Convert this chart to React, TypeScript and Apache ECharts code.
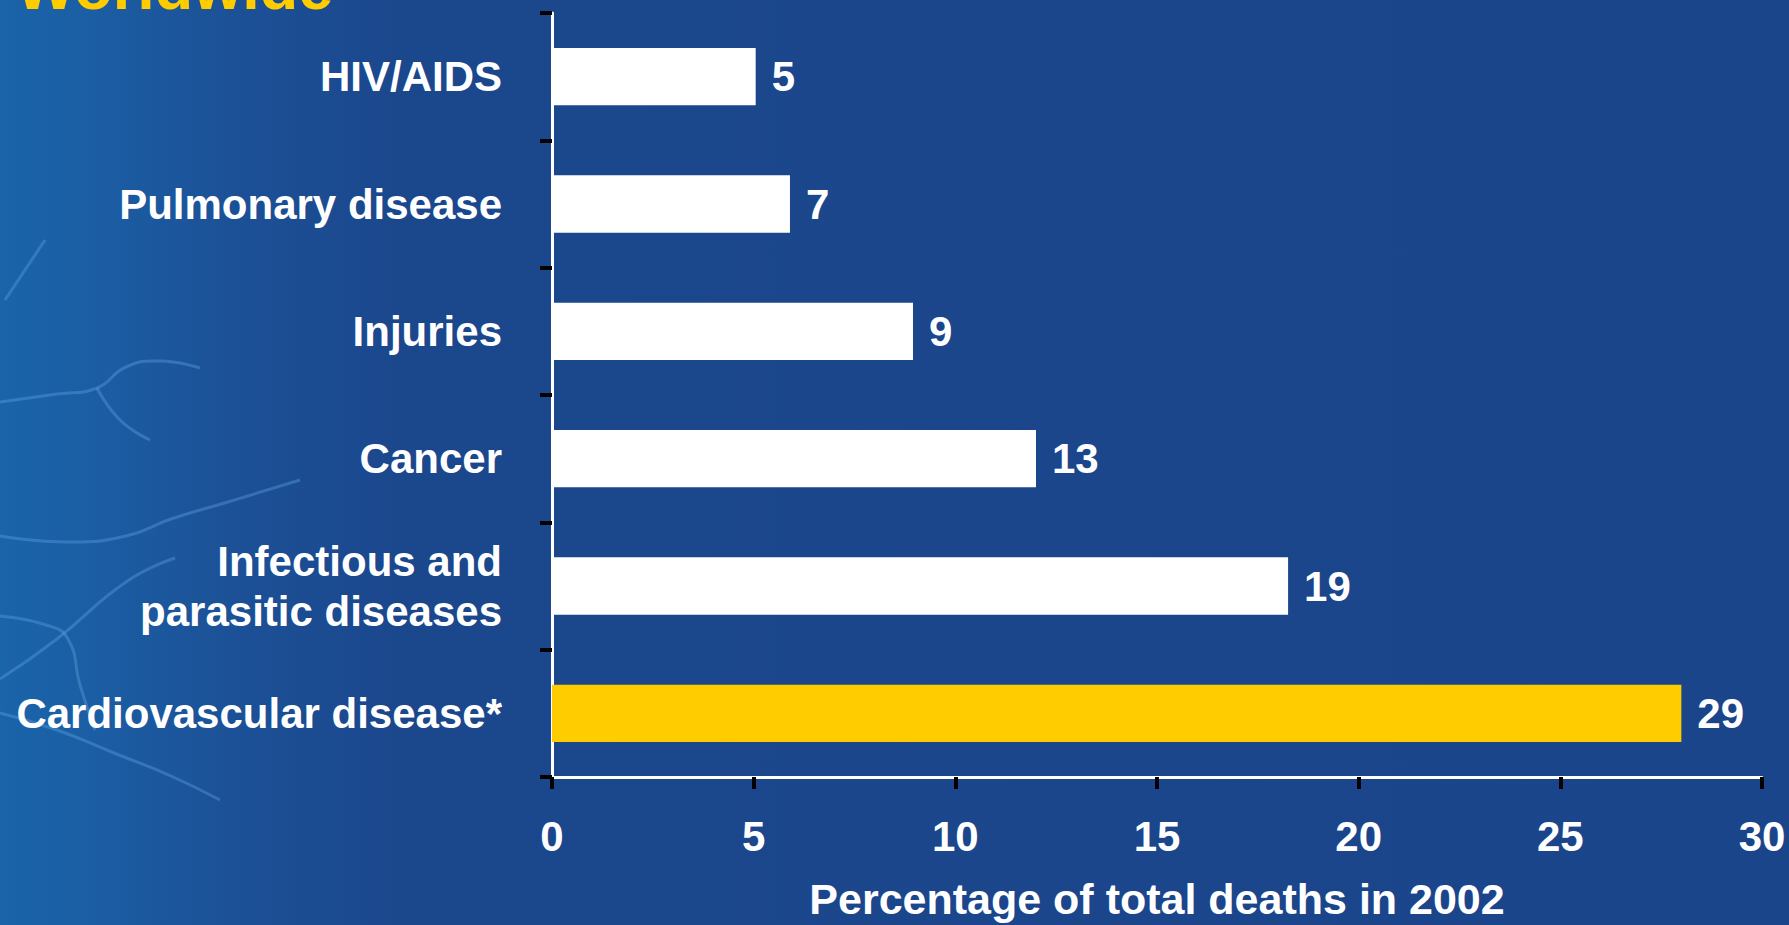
import React, { useEffect, useRef } from "react";
import * as echarts from "echarts";

const categories = [
  "HIV/AIDS",
  "Pulmonary disease",
  "Injuries",
  "Cancer",
  "Infectious and\nparasitic diseases",
  "Cardiovascular disease*",
];
// bar lengths as drawn in the reference
const barValues = [5.05, 5.9, 8.95, 12, 18.25, 28];
// numbers printed next to the bars
const labelTexts = ["5", "7", "9", "13", "19", "29"];
const barColors = ["#ffffff", "#ffffff", "#ffffff", "#ffffff", "#ffffff", "#ffcc00"];
const xTicks = { min: 0, max: 30, interval: 5 };
const titleText = "Worldwide";
const axisName = "Percentage of total deaths in 2002";

const FONT = "'Liberation Sans', Arial, Helvetica, sans-serif";

const veins: number[][][] = [
  [[0, 402], [57, 394], [97, 388], [126, 367], [160, 361], [200, 368]],
  [[97, 388], [120, 420], [150, 440]],
  [[0, 536], [68, 542], [126, 536], [171, 519], [228, 502], [300, 480]],
  [[0, 679], [57, 639], [126, 582], [175, 558]],
  [[0, 616], [46, 625], [68, 639], [80, 685], [95, 730]],
  [[0, 713], [57, 730], [114, 753], [171, 776], [220, 800]],
  [[5, 300], [25, 270], [45, 240]],
];

export default function App() {
  const ref = useRef<HTMLDivElement>(null);
  useEffect(() => {
    document.body.style.margin = "0";
    const chart = echarts.init(ref.current!, undefined, { renderer: "svg" });
    const veinGraphics = veins.map((pts) => ({
      type: "polyline",
      z: -9,
      shape: { points: pts, smooth: 0.5 },
      style: { stroke: "rgba(95,160,225,0.4)", lineWidth: 3, fill: "none" },
      silent: true,
    }));
    chart.setOption({
      animation: false,
      backgroundColor: "#1b458b",
      graphic: [
        {
          type: "rect",
          z: -10,
          shape: { x: 0, y: 0, width: 1789, height: 925 },
          style: {
            fill: new echarts.graphic.LinearGradient(0, 0, 1, 0, [
              { offset: 0, color: "#1a64aa" },
              { offset: 0.05, color: "#1b5ea4" },
              { offset: 0.12, color: "#1c5298" },
              { offset: 0.22, color: "#1b478d" },
              { offset: 1, color: "#1b458b" },
            ]),
          },
          silent: true,
        },
        ...veinGraphics,
        {
          type: "text",
          left: 16,
          top: -45,
          style: {
            text: titleText,
            fill: "#ffcc00",
            font: `bold 63px ${FONT}`,
          },
        },
      ],
      grid: { left: 552, right: 27, top: 13, bottom: 141, containLabel: false },
      xAxis: {
        type: "value",
        min: xTicks.min,
        max: xTicks.max,
        interval: xTicks.interval,
        axisLine: { show: true, lineStyle: { color: "#ffffff", width: 3 } },
        axisTick: { show: true, length: 12, lineStyle: { color: "#000000", width: 4 } },
        splitLine: { show: false },
        axisLabel: {
          color: "#ffffff",
          fontSize: 42,
          fontWeight: "bold",
          fontFamily: FONT,
          margin: 38,
        },
        name: axisName,
        nameLocation: "middle",
        nameGap: 100,
        nameTextStyle: {
          color: "#ffffff",
          fontSize: 43,
          fontWeight: "bold",
          fontFamily: FONT,
        },
      },
      yAxis: {
        type: "category",
        inverse: true,
        data: categories,
        axisLine: { show: true, lineStyle: { color: "#ffffff", width: 3 } },
        axisTick: { show: true, length: 12, lineStyle: { color: "#000000", width: 4 } },
        axisLabel: {
          color: "#ffffff",
          fontSize: 42,
          fontWeight: "bold",
          fontFamily: FONT,
          margin: 50,
          lineHeight: 50,
          align: "right",
        },
      },
      series: [
        {
          type: "bar",
          barCategoryGap: "55%",
          data: barValues.map((v, i) => ({ value: v, itemStyle: { color: barColors[i] } })),
          label: {
            show: true,
            position: "right",
            distance: 16,
            color: "#ffffff",
            fontSize: 42,
            fontWeight: "bold",
            fontFamily: FONT,
            formatter: (p: any) => labelTexts[p.dataIndex],
          },
        },
      ],
    });
    return () => chart.dispose();
  }, []);
  return (
    <div
      ref={ref}
      style={{ position: "fixed", left: 0, top: 0, width: 1789, height: 925 }}
    />
  );
}
